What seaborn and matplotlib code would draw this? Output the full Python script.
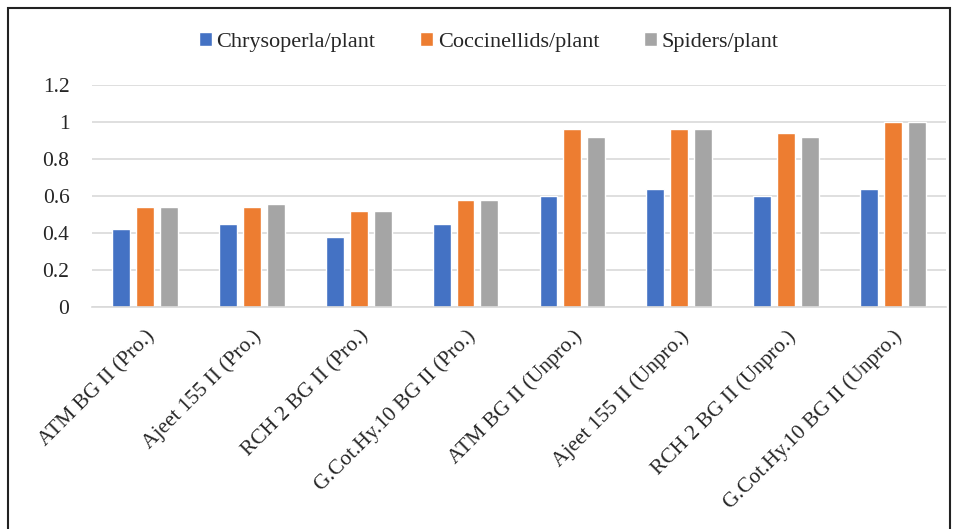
import pandas as pd
import matplotlib.pyplot as plt
import seaborn as sns
from matplotlib.patches import Rectangle

sns.set_theme(style="white")
plt.rcParams["font.family"] = ["Liberation Serif", "DejaVu Serif"]

varieties = [
    "ATM BG II (Pro.)", "Ajeet 155 II (Pro.)", "RCH 2 BG II (Pro.)",
    "G.Cot.Hy.10 BG II (Pro.)", "ATM BG II (Unpro.)", "Ajeet 155 II (Unpro.)",
    "RCH 2 BG II (Unpro.)", "G.Cot.Hy.10 BG II (Unpro.)",
]
chrysoperla = [0.42, 0.45, 0.38, 0.45, 0.60, 0.64, 0.60, 0.64]
coccinellids = [0.54, 0.54, 0.52, 0.58, 0.96, 0.96, 0.94, 1.00]
spiders = [0.54, 0.555, 0.52, 0.58, 0.92, 0.96, 0.92, 1.00]
series = ["Chrysoperla/plant", "Coccinellids/plant", "Spiders/plant"]
colors = ["#4472C4", "#ED7D31", "#A5A5A5"]
yticks = [0, 0.2, 0.4, 0.6, 0.8, 1, 1.2]
ytick_labels = ["0", "0.2", "0.4", "0.6", "0.8", "1", "1.2"]

df = pd.DataFrame({"variety": varieties, series[0]: chrysoperla,
                   series[1]: coccinellids, series[2]: spiders})
long = df.melt(id_vars="variety", var_name="series", value_name="value")

fig = plt.figure(figsize=(9.58, 5.29), dpi=100)
ax = fig.add_axes([0.0957, 0.419, 0.892, 0.421])

sns.barplot(data=long, x="variety", y="value", hue="series", order=varieties,
            hue_order=series, palette=colors, width=0.67, gap=0.25,
            saturation=1, ax=ax, legend=True)

ax.set_ylim(0, 1.2)
ax.set_yticks(yticks)
ax.set_yticklabels(ytick_labels, fontsize=15.5)
ax.yaxis.grid(True, color="#D9D9D9", linewidth=1.2)
ax.set_axisbelow(True)
ax.set_xlabel("")
ax.set_ylabel("")
ax.set_xticks(range(len(varieties)))
ax.set_xticklabels(varieties, rotation=45, ha="right", rotation_mode="anchor",
                   fontsize=15.5)
ax.tick_params(axis="x", length=0, pad=14)
ax.tick_params(axis="y", length=0, pad=16)
for s in ["top", "right", "left"]:
    ax.spines[s].set_visible(False)
ax.spines["bottom"].set_color("#D9D9D9")
ax.spines["bottom"].set_linewidth(1.2)

handles, labels = ax.get_legend_handles_labels()
ax.get_legend().remove()
fig.legend(handles, labels, loc="center", bbox_to_anchor=(0.51, 0.921),
           ncol=3, frameon=False, fontsize=16, handlelength=0.6,
           handleheight=0.6, handletextpad=0.2, columnspacing=2.0)

# outer frame of the original figure
fig.patches.append(Rectangle((8 / 958, -0.05), 942 / 958, 1.05 - 8 / 529,
                             transform=fig.transFigure, fill=False,
                             edgecolor="#222222", linewidth=1.5))

fig.savefig("out.png", dpi=100)
